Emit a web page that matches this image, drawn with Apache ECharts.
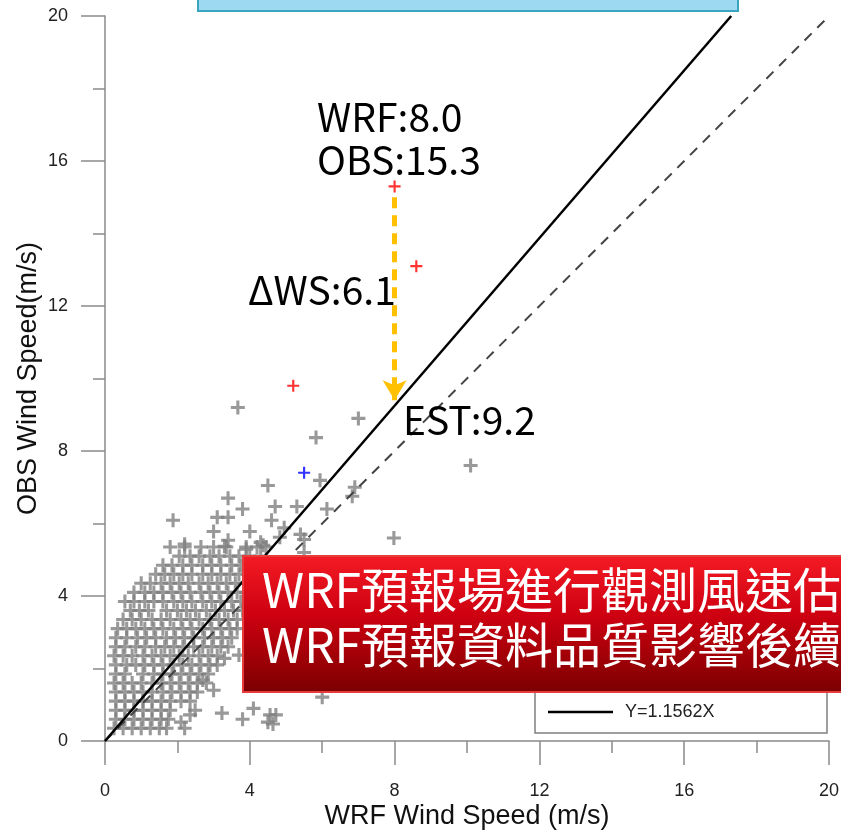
<!DOCTYPE html>
<html>
<head>
<meta charset="utf-8">
<script src="https://cdn.jsdelivr.net/npm/echarts@6/dist/echarts.min.js"></script>
<style>
  html, body { margin: 0; padding: 0; background: #fff; }
  #chart { width: 841px; height: 830px; }
</style>
</head>
<body>
<div id="chart"></div>
<script>
// WRF wind speed vs observed wind speed (m/s), one [wrf, obs] pair per station-hour
const cloudPts = [
  // obs ~0.35
  [0.25,0.35],[0.5,0.35],[0.75,0.35],[1.0,0.35],[1.25,0.35],[1.5,0.35],[1.7,0.35],[2.2,0.35],
  // obs ~0.6
  [0.3,0.6],[0.55,0.6],[0.8,0.6],[1.05,0.6],[1.3,0.6],[1.55,0.6],[1.75,0.6],
  // obs ~0.85
  [0.3,0.85],[0.55,0.85],[0.8,0.85],[1.05,0.85],[1.3,0.85],[1.55,0.85],[1.8,0.85],
  // obs ~1.1
  [0.3,1.1],[0.55,1.1],[0.8,1.1],[1.05,1.1],[1.3,1.1],[1.55,1.1],[1.8,1.1],[2.1,1.1],[2.35,1.1],
  // obs ~1.35
  [0.3,1.35],[0.55,1.35],[0.8,1.35],[1.05,1.35],[1.3,1.35],[1.6,1.35],[1.85,1.35],[2.1,1.35],[2.35,1.35],[2.55,1.35],
  // obs ~1.6
  [0.25,1.6],[0.5,1.6],[0.75,1.6],[1.0,1.6],[1.3,1.6],[1.55,1.6],[1.8,1.6],[2.05,1.6],[2.3,1.6],[2.55,1.6],[2.8,1.6],
  // obs ~1.85
  [0.3,1.85],[0.55,1.85],[1.05,1.85],[1.35,1.85],[1.6,1.85],[1.85,1.85],[2.1,1.85],[2.35,1.85],[2.6,1.85],[2.85,1.85],
  // obs ~2.1
  [0.3,2.1],[0.6,2.1],[0.85,2.1],[1.1,2.1],[1.35,2.1],[1.6,2.1],[1.9,2.1],[2.15,2.1],[2.4,2.1],[2.65,2.1],[2.9,2.1],[3.1,2.1],
  // obs ~2.35
  [0.25,2.35],[0.5,2.35],[0.75,2.35],[1.05,2.35],[1.3,2.35],[1.55,2.35],[1.8,2.35],[2.05,2.35],[2.3,2.35],[2.6,2.35],[2.85,2.35],[3.1,2.35],
  // obs ~2.6
  [0.3,2.6],[0.55,2.6],[0.85,2.6],[1.1,2.6],[1.4,2.6],[1.65,2.6],[1.9,2.6],[2.15,2.6],[2.45,2.6],[2.7,2.6],[2.95,2.6],[3.2,2.6],[3.4,2.6],
  // obs ~2.85
  [0.3,2.85],[0.6,2.85],[0.9,2.85],[1.15,2.85],[1.4,2.85],[1.7,2.85],[1.95,2.85],[2.2,2.85],[2.45,2.85],[2.75,2.85],[3.0,2.85],[3.25,2.85],[3.5,2.85],
  // obs ~3.1
  [0.35,3.1],[0.6,3.1],[0.85,3.1],[1.1,3.1],[1.35,3.1],[1.6,3.1],[1.9,3.1],[2.15,3.1],[2.4,3.1],[2.7,3.1],[2.95,3.1],[3.2,3.1],[3.45,3.1],[3.65,3.1],
  // obs ~3.35
  [0.5,3.35],[0.75,3.35],[1.0,3.35],[1.3,3.35],[1.55,3.35],[1.8,3.35],[2.1,3.35],[2.35,3.35],[2.6,3.35],[2.9,3.35],[3.15,3.35],[3.4,3.35],[3.65,3.35],
  // obs ~3.6
  [0.7,3.6],[0.95,3.6],[1.2,3.6],[1.7,3.6],[2.0,3.6],[2.25,3.6],[2.5,3.6],[2.8,3.6],[3.05,3.6],[3.3,3.6],[3.55,3.6],[3.8,3.6],
  // obs ~3.85
  [0.55,3.85],[0.8,3.85],[1.1,3.85],[1.35,3.85],[1.6,3.85],[1.9,3.85],[2.15,3.85],[2.4,3.85],[2.7,3.85],[2.95,3.85],[3.2,3.85],[3.5,3.85],[3.75,3.85],
  // obs ~4.1
  [0.8,4.1],[1.1,4.1],[1.35,4.1],[1.6,4.1],[1.85,4.1],[2.1,4.1],[2.35,4.1],[2.65,4.1],[2.9,4.1],[3.15,4.1],[3.4,4.1],[3.65,4.1],[3.9,4.1],
  // obs ~4.35
  [1.0,4.35],[1.25,4.35],[1.55,4.35],[1.8,4.35],[2.05,4.35],[2.3,4.35],[2.6,4.35],[2.85,4.35],[3.1,4.35],[3.35,4.35],[3.6,4.35],[3.85,4.35],
  // obs ~4.6
  [1.4,4.6],[1.65,4.6],[1.9,4.6],[2.15,4.6],[2.4,4.6],[2.7,4.6],[2.95,4.6],[3.2,4.6],[3.45,4.6],[3.7,4.6],[3.95,4.6],
  // obs ~4.85
  [1.6,4.85],[1.85,4.85],[2.15,4.85],[2.4,4.85],[2.7,4.85],[2.95,4.85],[3.2,4.85],[3.5,4.85],[3.75,4.85],[4.0,4.85],
  // obs ~5.1
  [2.05,5.1],[2.35,5.1],[2.6,5.1],[2.9,5.1],[3.15,5.1],[3.45,5.1],[3.7,5.1],[4.0,5.1],[4.3,5.1],
  // obs ~5.35
  [1.8,5.35],[2.2,5.35],[2.65,5.35],[3.0,5.35],[3.35,5.35],[3.9,5.35],[4.2,5.35],[4.45,5.35]
];

const spreadPts = [
  [3.67,9.2],[7.0,8.9],[5.83,8.37],[10.1,7.6],[5.94,7.19],[4.5,7.05],[6.9,7.0],[6.83,6.75],
  [3.4,6.7],[3.8,6.4],[4.7,6.47],[5.3,6.47],[6.13,6.4],[7.98,5.6],[1.88,6.09],[3.1,6.17],
  [3.4,6.17],[4.6,6.09],[3.0,5.78],[4.0,5.78],[4.95,5.88],[5.4,5.7],[5.5,5.56],[5.5,5.2],
  [4.3,5.48],[4.37,5.4],[4.83,5.62],[3.4,5.54],[2.2,5.43],[3.9,5.29],[3.3,5.37],
  [2.1,0.52],[2.35,0.72],[2.49,0.85],[3.23,0.77],[3.8,0.6],[4.1,0.9],[3.0,1.4],[2.7,1.68],
  [3.3,2.28],[3.7,2.37],[4.56,0.72],[4.5,0.52],[4.64,0.47],[4.72,0.72],[6.0,1.21],
  [4.1,4.3],[4.4,4.7],[4.0,3.9],[4.6,4.9]
];

// highlighted cases
const redPts = [[8.0,15.3],[8.6,13.1],[5.2,9.8]];
const bluePts = [[5.5,7.4]];

// regression through origin and the 1:1 reference
const fitSlope = 1.1562;
const fitName = 'Y=1.1562X';
const axisMax = 20;
const axisStep = 4;
const minorStep = 2;

// estimate for the WRF 8.0 case
const caseWrf = 8.0;
const caseObs = 15.3;
const caseEst = 9.2;
const caseDiff = 6.1;

const plusThick = 'path://M3.9,0h2.2v3.9h3.9v2.2h-3.9v3.9h-2.2v-3.9h-3.9v-2.2h3.9z';
const plusThin = 'path://M4.1,0h1.8v4.1h4.1v1.8h-4.1v4.1h-1.8v-4.1h-4.1v-1.8h4.1z';
const fontLatin = '"Liberation Sans", Arial, sans-serif';
const fontCjk = '"Noto Sans CJK TC", "Noto Sans", sans-serif';

const axisGray = '#8a8a8a';

// main axis: line, long ticks every 4, labels and title
function mainAxis(name, nameGap, labelMargin) {
  return {
    type: 'value', min: 0, max: axisMax, interval: axisStep,
    axisLine: { show: true, lineStyle: { color: axisGray, width: 1.5 } },
    axisTick: { show: true, inside: false, length: 24, lineStyle: { color: axisGray, width: 1.5 } },
    splitLine: { show: false },
    axisLabel: { fontFamily: fontLatin, fontSize: 18, color: '#222', margin: labelMargin },
    name: name,
    nameLocation: 'middle',
    nameGap: nameGap,
    nameMoveOverlap: false,
    nameTextStyle: { fontFamily: fontLatin, fontSize: 27, color: '#111' }
  };
}
// companion axis carrying only the short outward ticks every 2
function shortTickAxis(position) {
  return {
    type: 'value', min: 0, max: axisMax, interval: minorStep, position: position,
    axisLine: { show: false },
    axisTick: { show: true, inside: false, length: 12, lineStyle: { color: axisGray, width: 1.5 } },
    splitLine: { show: false },
    axisLabel: { show: false }
  };
}

const chart = echarts.init(document.getElementById('chart'), null, { renderer: 'canvas' });

chart.setOption({
  animation: false,
  backgroundColor: '#fff',
  grid: { left: 105, right: 12, top: 16, bottom: 89, containLabel: false, outerBoundsMode: 'none' },
  xAxis: [mainAxis('WRF Wind Speed (m/s)', 62, 41), shortTickAxis('bottom')],
  yAxis: [mainAxis('OBS Wind Speed(m/s)', 63, 37), shortTickAxis('left')],
  legend: {
    show: true,
    data: [fitName],
    left: 548, top: 703,
    padding: 0,
    icon: 'rect',
    itemWidth: 65, itemHeight: 2.5,
    textStyle: { fontFamily: fontLatin, fontSize: 18, color: '#222', padding: [0, 0, 0, 7] },
    z: 5
  },
  series: [
    {
      name: 'obs', type: 'scatter', silent: true,
      data: cloudPts.concat(spreadPts),
      symbol: plusThick, symbolSize: 14,
      itemStyle: { color: '#808080' }, z: 2
    },
    {
      name: '1:1', type: 'line', silent: true,
      data: [[0, 0], [axisMax, axisMax]],
      symbol: 'none',
      itemStyle: { color: '#444' },
      lineStyle: { color: '#444', width: 2, type: [10, 8] }, z: 3
    },
    {
      name: fitName, type: 'line', silent: true,
      data: [[0, 0], [axisMax / fitSlope, axisMax]],
      symbol: 'none',
      itemStyle: { color: '#000' },
      lineStyle: { color: '#000', width: 2.5 }, z: 3
    },
    {
      name: 'high', type: 'scatter', silent: true,
      data: redPts, symbol: plusThin, symbolSize: 12,
      itemStyle: { color: '#ff0000' }, z: 4,
      markLine: {
        silent: true,
        symbol: ['none', 'arrow'],
        symbolSize: [18, 20],
        label: { show: false },
        lineStyle: { color: '#FFC000', width: 5, type: [11, 7] },
        data: [[{ coord: [caseWrf, 15.0] }, { coord: [caseWrf, 9.4] }]]
      }
    },
    {
      name: 'mid', type: 'scatter', silent: true,
      data: bluePts, symbol: plusThin, symbolSize: 12,
      itemStyle: { color: '#0000ff' }, z: 4
    }
  ],
  graphic: [
    {
      type: 'rect', z: 3, silent: true,
      shape: { x: 535, y: 660, width: 292, height: 73 },
      style: { fill: '#fff', stroke: '#808080', lineWidth: 1.5 }
    },
    {
      type: 'rect', z: 20, silent: true,
      shape: { x: 198, y: -20, width: 540, height: 31 },
      style: { fill: '#9DD9F0', stroke: '#3AA5C0', lineWidth: 2 }
    },
    {
      type: 'text', z: 20, silent: true,
      style: {
        text: 'WRF:' + caseWrf.toFixed(1) + '\nOBS:' + caseObs.toFixed(1),
        x: 317, y: 139, fill: '#000', font: '39px ' + fontCjk,
        verticalAlign: 'middle', lineHeight: 43
      }
    },
    {
      type: 'text', z: 20, silent: true,
      style: {
        text: 'ΔWS:' + caseDiff.toFixed(1),
        x: 248, y: 290, fill: '#000', font: '39px ' + fontCjk, verticalAlign: 'middle'
      }
    },
    {
      type: 'text', z: 20, silent: true,
      style: {
        text: 'EST:' + caseEst.toFixed(1),
        x: 403, y: 420, fill: '#000', font: '39px ' + fontCjk, verticalAlign: 'middle'
      }
    },
    {
      type: 'rect', z: 30, silent: true,
      shape: { x: 243, y: 556, width: 620, height: 136 },
      style: {
        fill: {
          type: 'linear', x: 0, y: 0, x2: 0, y2: 1,
          colorStops: [
            { offset: 0, color: '#F41B25' },
            { offset: 0.45, color: '#CC0010' },
            { offset: 1, color: '#7A0000' }
          ]
        },
        stroke: '#E63C3C', lineWidth: 2
      }
    },
    {
      type: 'text', z: 31, silent: true,
      style: {
        text: 'WRF預報場進行觀測風速估\nWRF預報資料品質影響後續',
        x: 262, y: 617, fill: '#fff', font: '48px ' + fontCjk,
        verticalAlign: 'middle', lineHeight: 55
      }
    }
  ]
});
</script>
</body>
</html>
